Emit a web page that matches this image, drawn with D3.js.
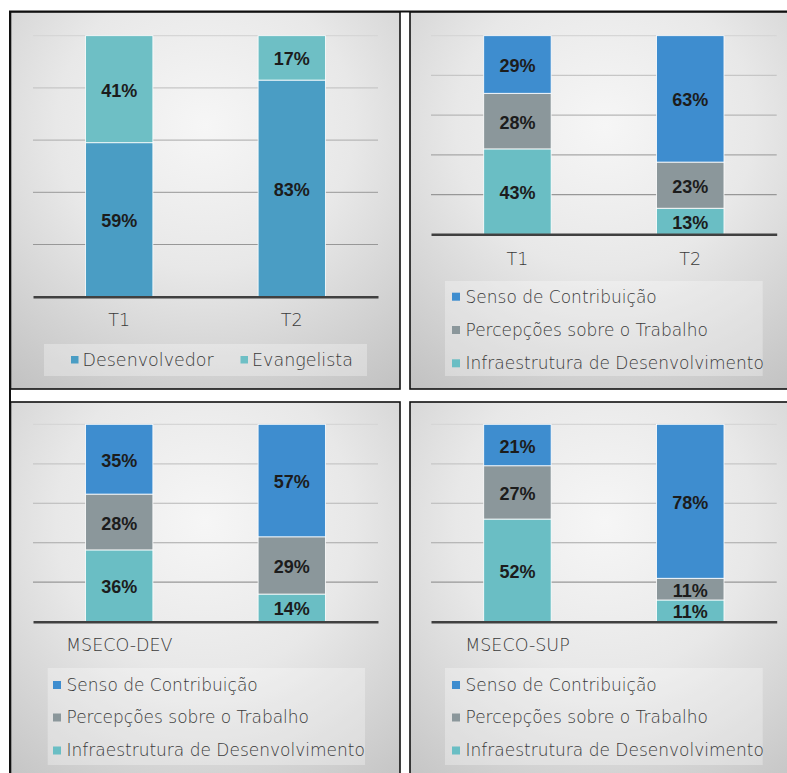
<!DOCTYPE html>
<html>
<head>
<meta charset="utf-8">
<script src="https://cdn.jsdelivr.net/npm/d3@7"></script>
<style>
  html, body { margin: 0; padding: 0; background: #ffffff; }
  svg { display: block; }
</style>
</head>
<body>
<svg id="chart" width="787" height="773"></svg>
<script>
// ---------- DATA ----------
const categoriesA = ["T1", "T2"];
const desenvolvedor = [59, 83];
const evangelista = [41, 17];

const categoriesB = ["T1", "T2"];
const sensoB = [29, 63];
const percepB = [28, 23];
const infraB = [43, 13];

const categoriesC = ["MSECO-DEV", ""];
const sensoC = [35, 57];
const percepC = [28, 29];
const infraC = [36, 14];

const categoriesD = ["MSECO-SUP", ""];
const sensoD = [21, 78];
const percepD = [27, 11];
const infraD = [52, 11];

const gridTicks = [0.2, 0.4, 0.6, 0.8, 1.0];

const seriesNames2 = ["Desenvolvedor", "Evangelista"];
const seriesNames3 = ["Infraestrutura de Desenvolvimento", "Percepções sobre o Trabalho", "Senso de Contribuição"];

// ---------- STYLE ----------
const colors = {
  "Desenvolvedor": "#4a9dc4",
  "Evangelista": "#6ebfc5",
  "Senso de Contribuição": "#3e8dcf",
  "Percepções sobre o Trabalho": "#8b979b",
  "Infraestrutura de Desenvolvimento": "#6abec4"
};
const textFont = "'DejaVu Sans', sans-serif";
const textWeight = 300;
const textColor = "#3a3a3a";
const labelFont = "'Liberation Sans', Arial, sans-serif";

const svg = d3.select("#chart");
const defs = svg.append("defs");

const bg = defs.append("radialGradient").attr("id", "bgGrad")
  .attr("cx", "50%").attr("cy", "30%").attr("r", "85%");
bg.append("stop").attr("offset", "0%").attr("stop-color", "#f6f6f6");
bg.append("stop").attr("offset", "45%").attr("stop-color", "#e8e8e8");
bg.append("stop").attr("offset", "100%").attr("stop-color", "#c2c2c2");

// ---------- PANELS (layout) ----------
const panels = [
  { cell: [10.5, 12, 400, 389], plot: [33, 378, 35.7, 296.7], catY: 320,
    cats: categoriesA, names: seriesNames2, values: [desenvolvedor, evangelista],
    legend: { box: [44, 344, 367, 376], horizontal: true, y: 360, items: [["Desenvolvedor", 71], ["Evangelista", 240.5]] } },
  { cell: [410, 12, 800, 389], plot: [431, 776.7, 35.7, 234.3], catY: 258.5,
    cats: categoriesB, names: seriesNames3, values: [infraB, percepB, sensoB],
    legend: { box: [445, 281, 762.7, 376], markerX: 452, rows: [296.7, 330, 363.3] } },
  { cell: [10.5, 402, 400, 800], plot: [33, 378, 424.3, 621.7], catY: 645,
    cats: categoriesC, names: seriesNames3, values: [infraC, percepC, sensoC],
    legend: { box: [47.7, 668, 365, 765], markerX: 53, rows: [685, 717.5, 750.5] } },
  { cell: [410, 402, 800, 800], plot: [431, 776.7, 424.3, 621.7], catY: 645,
    cats: categoriesD, names: seriesNames3, values: [infraD, percepD, sensoD],
    legend: { box: [445, 668, 762.7, 765], markerX: 452, rows: [685, 717.5, 750.5] } }
];

// outer table border
svg.append("line").attr("x1", 9).attr("x2", 787).attr("y1", 11.5).attr("y2", 11.5)
  .attr("stroke", "#111").attr("stroke-width", 2);
svg.append("line").attr("x1", 10).attr("x2", 10).attr("y1", 11).attr("y2", 773)
  .attr("stroke", "#111").attr("stroke-width", 2);

panels.forEach((p, pi) => {
  const g = svg.append("g");
  const [cx0, cy0, cx1, cy1] = p.cell;
  g.append("rect").attr("x", cx0).attr("y", cy0).attr("width", cx1 - cx0).attr("height", cy1 - cy0)
    .attr("fill", "url(#bgGrad)").attr("stroke", "#111").attr("stroke-width", 1.6);

  const [px0, px1, py0, py1] = p.plot;
  const x = d3.scaleBand().domain(d3.range(p.cats.length)).range([px0, px1])
    .paddingInner(0.61).paddingOuter(0.305);
  const y = d3.scaleLinear().domain([0, 1]).range([py1, py0]);

  // grid gradient
  const gid = "gridGrad" + pi;
  const gg = defs.append("linearGradient").attr("id", gid).attr("gradientUnits", "userSpaceOnUse")
    .attr("x1", 0).attr("x2", 0).attr("y1", py0).attr("y2", py1);
  gg.append("stop").attr("offset", "0%").attr("stop-color", "#d6d6d6");
  gg.append("stop").attr("offset", "100%").attr("stop-color", "#888888");

  g.append("g").selectAll("line").data(gridTicks).join("line")
    .attr("x1", px0).attr("x2", px1)
    .attr("y1", d => y(d)).attr("y2", d => y(d))
    .attr("stroke", `url(#${gid})`).attr("stroke-width", 1.2);

  // stacked data
  const rows = p.cats.map((c, i) => {
    const o = { idx: i };
    p.names.forEach((n, k) => o[n] = p.values[k][i]);
    return o;
  });
  const stacked = d3.stack().keys(p.names).offset(d3.stackOffsetExpand)(rows);

  const sg = g.append("g").selectAll("g").data(stacked).join("g")
    .attr("fill", d => colors[d.key]);
  sg.selectAll("rect").data(d => d).join("rect")
    .attr("x", d => x(d.data.idx))
    .attr("width", x.bandwidth())
    .attr("y", d => y(d[1]))
    .attr("height", d => y(d[0]) - y(d[1]))
    .attr("stroke", "#ffffff").attr("stroke-width", 0.8);

  // value labels
  const lg = g.append("g");
  stacked.forEach(s => {
    s.forEach(d => {
      lg.append("text")
        .attr("x", x(d.data.idx) + x.bandwidth() / 2)
        .attr("y", (y(d[0]) + y(d[1])) / 2 + 1.5)
        .attr("text-anchor", "middle")
        .attr("dominant-baseline", "central")
        .attr("font-family", labelFont).attr("font-weight", "bold").attr("font-size", 18)
        .attr("fill", "#1c1c1c")
        .text(d.data[s.key] + "%");
    });
  });

  // x axis
  const axis = d3.axisBottom(x).tickSize(0).tickSizeOuter(0).tickFormat(i => p.cats[i]);
  const ag = g.append("g").attr("transform", `translate(0,${py1})`).call(axis);
  ag.select(".domain").attr("stroke", "#404040").attr("stroke-width", 2.6);
  ag.selectAll("text")
    .attr("y", p.catY - py1).attr("dy", "0.35em")
    .attr("font-family", textFont).attr("font-weight", textWeight)
    .attr("font-size", 17.5).attr("fill", textColor);

  // legend
  const L = p.legend;
  const [lx0, ly0, lx1, ly1] = L.box;
  g.append("rect").attr("x", lx0).attr("y", ly0).attr("width", lx1 - lx0).attr("height", ly1 - ly0)
    .attr("fill", "#ffffff").attr("fill-opacity", 0.3);
  if (L.horizontal) {
    L.items.forEach(([name, mx]) => {
      g.append("rect").attr("x", mx).attr("y", L.y - 4).attr("width", 7.5).attr("height", 7.5)
        .attr("fill", colors[name]);
      g.append("text").attr("x", mx + 11.5).attr("y", L.y).attr("dy", "0.35em")
        .attr("font-family", textFont).attr("font-weight", textWeight)
        .attr("font-size", 17.5).attr("fill", textColor)
        .text(name);
    });
  } else {
    const names = p.names.slice().reverse();
    names.forEach((name, k) => {
      const ry = L.rows[k];
      g.append("rect").attr("x", L.markerX).attr("y", ry - 4).attr("width", 8).attr("height", 8)
        .attr("fill", colors[name]);
      g.append("text").attr("x", L.markerX + 13.5).attr("y", ry).attr("dy", "0.35em")
        .attr("font-family", textFont).attr("font-weight", textWeight)
        .attr("font-size", 17).attr("fill", textColor)
        .text(name);
    });
  }
});
</script>
</body>
</html>
